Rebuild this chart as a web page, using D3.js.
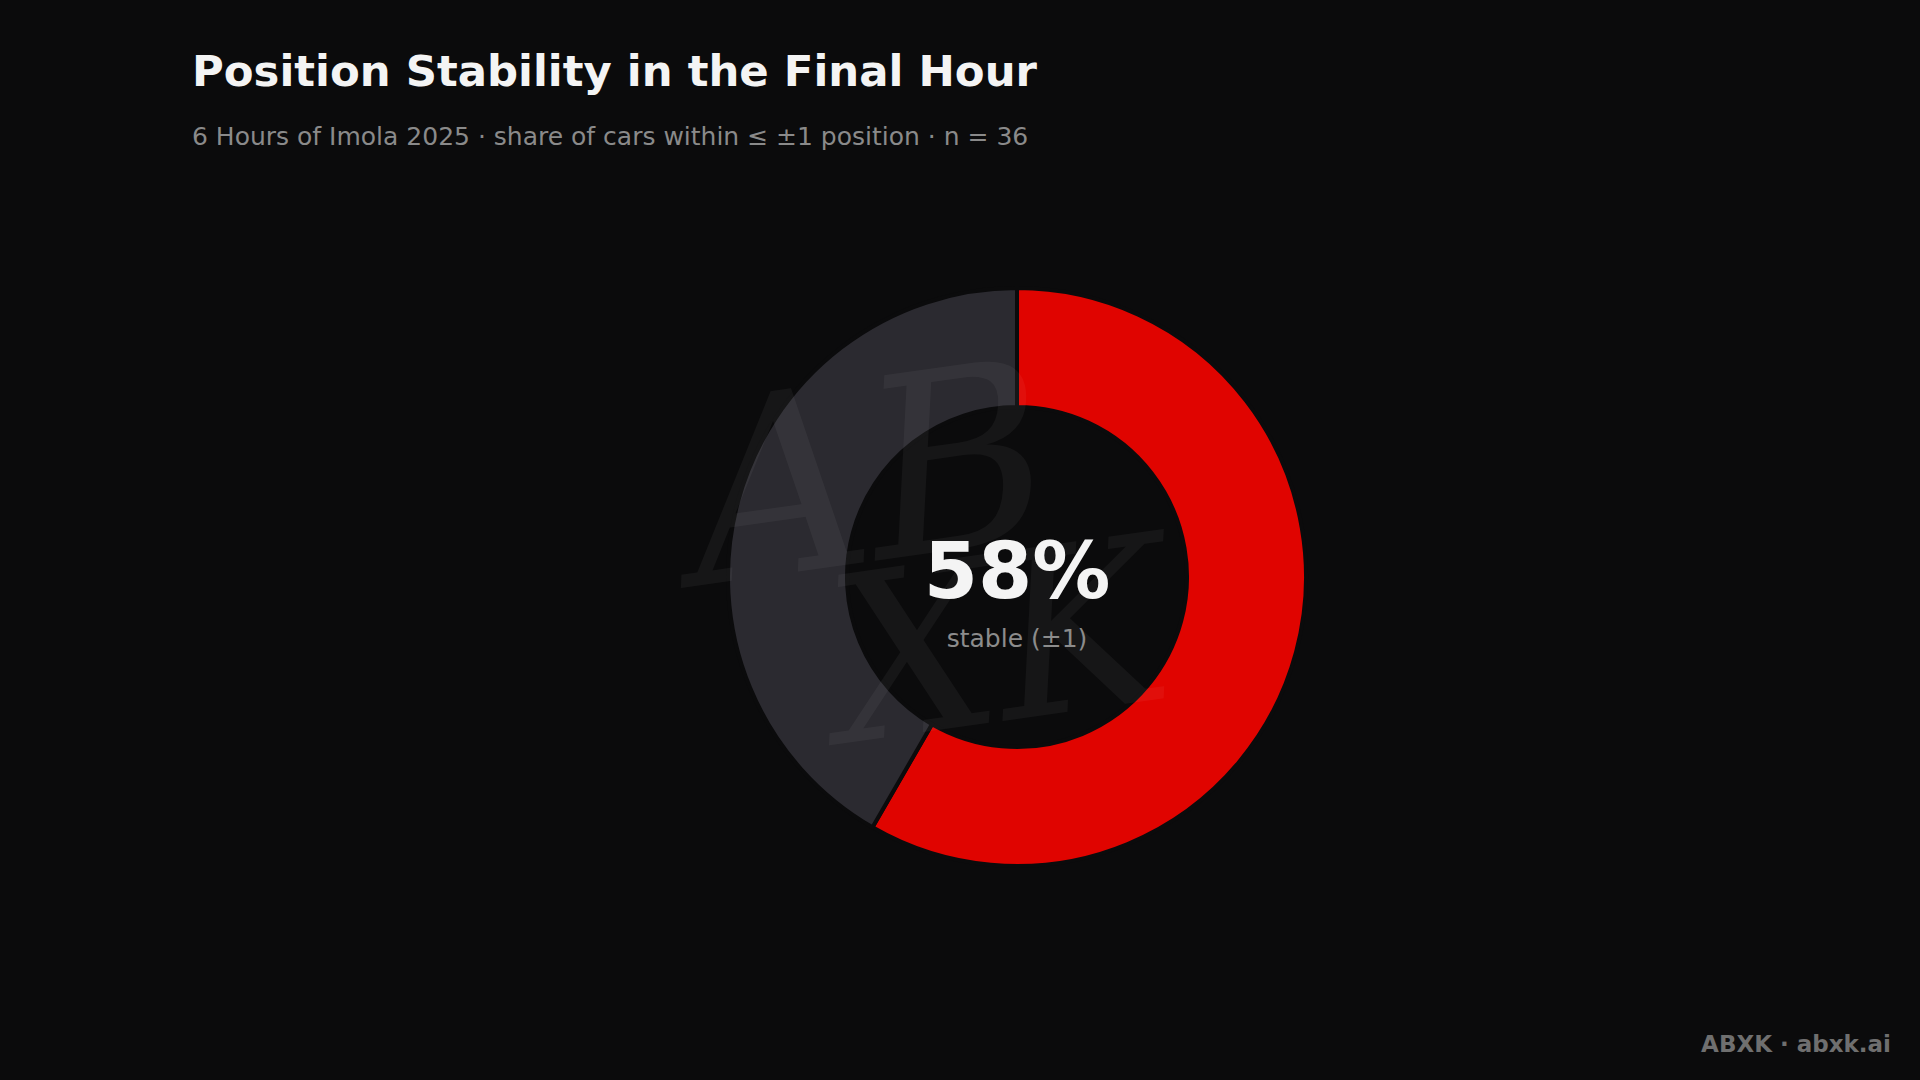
<!DOCTYPE html>
<html><head><meta charset="utf-8">
<script src="https://cdn.jsdelivr.net/npm/d3@7"></script>
<style>html,body{margin:0;padding:0;background:#0b0b0c;}svg{display:block;}</style>
</head><body>
<script>
const categories = ["Stable (±1)", "Moved > 1"];
const counts = [21, 15];
const colors = ["#e00400", "#2b2a30"];
const title = "Position Stability in the Final Hour";
const subtitle = "6 Hours of Imola 2025 · share of cars within ≤ ±1 position · n = 36";
const centerLabel = "stable (±1)";
const footer = "ABXK · abxk.ai";

const W = 1920, H = 1080;
const svg = d3.select("body").append("svg").attr("width", W).attr("height", H);
svg.append("rect").attr("width", W).attr("height", H).attr("fill", "#0b0b0c");

svg.append("text").attr("x", 192).attr("y", 86).attr("fill", "#f4f4f4")
  .attr("font-family", "DejaVu Sans").attr("font-weight", "bold").attr("font-size", 43.4)
  .text(title);
svg.append("text").attr("x", 192).attr("y", 145).attr("fill", "#8a8a8a")
  .attr("font-family", "DejaVu Sans").attr("font-size", 25)
  .text(subtitle);

const cx = 1017, cy = 577, rOut = 289, rIn = 170;
const g = svg.append("g").attr("transform", `translate(${cx},${cy})`);
const pie = d3.pie().sort(null).value(d => d)(counts);
const arc = d3.arc().innerRadius(rIn).outerRadius(rOut);
g.selectAll("path.slice").data(pie).join("path").attr("class", "slice")
  .attr("d", arc).attr("fill", (d, i) => colors[i])
  .attr("stroke", "#0b0b0c").attr("stroke-width", 4);

// faint watermark
const wm = svg.append("g").attr("opacity", 0.045).attr("fill", "#ffffff")
  .attr("font-family", "DejaVu Serif").attr("font-style", "italic");
wm.append("text").attr("x", 880).attr("y", 560).attr("font-size", 250)
  .attr("transform", "rotate(-8,880,560)").attr("text-anchor", "middle").text("AB");
wm.append("text").attr("x", 1010).attr("y", 720).attr("font-size", 230)
  .attr("transform", "rotate(-8,1010,720)").attr("text-anchor", "middle").text("XK");

const total = d3.sum(counts);
const pct = Math.round(counts[0] / total * 100);
svg.append("text").attr("x", cx).attr("y", 598).attr("text-anchor", "middle")
  .attr("fill", "#f4f4f4").attr("font-family", "DejaVu Sans").attr("font-weight", "bold")
  .attr("font-size", 78).text(pct + "%");
svg.append("text").attr("x", cx).attr("y", 647).attr("text-anchor", "middle")
  .attr("fill", "#8c8c8c").attr("font-family", "DejaVu Sans")
  .attr("font-size", 25).text(centerLabel);

svg.append("text").attr("x", 1891).attr("y", 1052).attr("text-anchor", "end")
  .attr("fill", "#6f6f6f").attr("font-family", "DejaVu Sans").attr("font-weight", "bold")
  .attr("font-size", 23).text(footer);
</script>
</body></html>
